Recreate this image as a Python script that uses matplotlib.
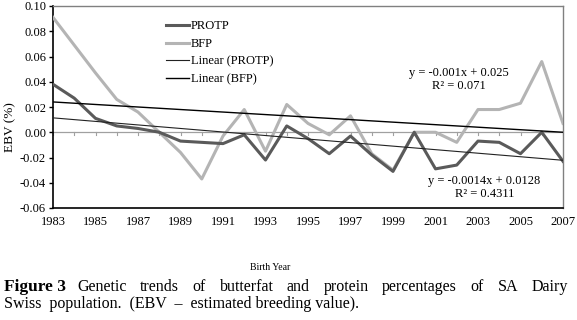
import numpy as np
import matplotlib
matplotlib.use("Agg")
import matplotlib.pyplot as plt

# --- datos ---
years = np.arange(1983, 2008)
protp = [0.038, 0.027, 0.011, 0.005, 0.003, 0.000, -0.007, -0.008, -0.009, -0.002,
         -0.022, 0.005, -0.005, -0.017, -0.003, -0.018, -0.031, 0.000, -0.029, -0.026,
         -0.007, -0.008, -0.017, 0.000, -0.023]
bfp = [0.091, 0.069, 0.047, 0.026, 0.016, 0.000, -0.016, -0.037, -0.003, 0.018,
       -0.015, 0.022, 0.007, -0.002, 0.013, -0.017, -0.030, 0.000, 0.000, -0.008,
       0.018, 0.018, 0.023, 0.056, 0.007]
# ecuaciones de tendencia (x = 1..25)
slope_protp, icpt_protp = -0.0014, 0.0128
slope_bfp, icpt_bfp = -0.001, 0.025
yticks = [-0.06, -0.04, -0.02, 0.00, 0.02, 0.04, 0.06, 0.08, 0.10]
xticks = list(range(1983, 2008, 2))

plt.rcParams['font.family'] = ['Liberation Serif', 'DejaVu Serif']

fig = plt.figure(figsize=(5.77, 3.2), dpi=100)
W, H = 577, 320
ax = fig.add_axes([53 / W, 1 - 208 / H, (563 - 53) / W, (208 - 6) / H])

xi = np.arange(1, len(years) + 1)
ax.plot(years, protp, color='#5a5a5a', lw=2.2, label='PROTP', zorder=4)
ax.plot(years, bfp, color='#b4b4b4', lw=2.2, label='BFP', zorder=3)
ax.plot(years, slope_protp * xi + icpt_protp, color='#222222', lw=0.8,
        label='Linear (PROTP)', zorder=5)
ax.plot(years, slope_bfp * xi + icpt_bfp, color='#000000', lw=1.0,
        label='Linear (BFP)', zorder=5)

# eje en cero con marcas
ax.axhline(0, color='#a0a0a0', lw=0.9, zorder=1)
for yr in years:
    ax.plot([yr, yr], [0, -0.0018], color='#a0a0a0', lw=0.8, zorder=1)

ax.set_xlim(1983, 2007)
ax.set_ylim(-0.06, 0.10)
ax.set_yticks(yticks)
ax.set_yticklabels([f"{v:.2f}" for v in yticks], fontsize=9)
ax.set_xticks(xticks)
ax.set_xticklabels([str(x) for x in xticks], fontsize=9)
ax.tick_params(axis='y', length=3, width=1, direction='out', pad=2)
ax.tick_params(axis='x', length=0, pad=6)

for s in ['top', 'right']:
    ax.spines[s].set_color('#808080')
    ax.spines[s].set_linewidth(1.0)
ax.spines['left'].set_color('black')
ax.spines['left'].set_linewidth(1.2)
ax.spines['bottom'].set_color('black')
ax.spines['bottom'].set_linewidth(1.2)

ax.set_ylabel('EBV (%)', fontsize=9.5, labelpad=1)
ax.yaxis.set_label_coords(-0.0725, 0.40)

ax.legend(loc='upper left', bbox_to_anchor=(0.21, 0.96), frameon=False, fontsize=9,
          handlelength=1.8, handletextpad=0.15, labelspacing=0.45, borderpad=0)

ax.text(2002.1, 0.042, 'y = -0.001x + 0.025\nR² = 0.071', ha='center', va='center',
        fontsize=9, linespacing=1.1)
ax.text(2003.3, -0.0436, 'y = -0.0014x + 0.0128\nR² = 0.4311', ha='center', va='center',
        fontsize=9, linespacing=1.1)

fig.text(270 / W, 1 - 267 / H, 'Birth Year', ha='center', va='center', fontsize=7)

# --- pie de figura justificado ---
renderer = fig.canvas.get_renderer()
cap_size = 11.5
first = fig.text(4 / W, 1 - 287 / H, 'Figure 3', fontsize=12.5, fontweight='bold',
                 va='center', ha='left')
words = 'Genetic trends of butterfat and protein percentages of SA Dairy'.split()
objs = [fig.text(0, 1 - 287 / H, w, fontsize=cap_size, va='center', ha='left') for w in words]
widths = [o.get_window_extent(renderer).width / fig.bbox.width for o in objs]
start = 77 / W
end = 568 / W
gap = (end - start - sum(widths)) / (len(words) - 1)
pos = start
for o, w in zip(objs, widths):
    o.set_x(pos)
    pos += w + gap
fig.text(4 / W, 1 - 304 / H, 'Swiss  population.  (EBV  \u2013  estimated breeding value).',
         fontsize=cap_size, va='center', ha='left')

fig.savefig('out.png', dpi=100)
